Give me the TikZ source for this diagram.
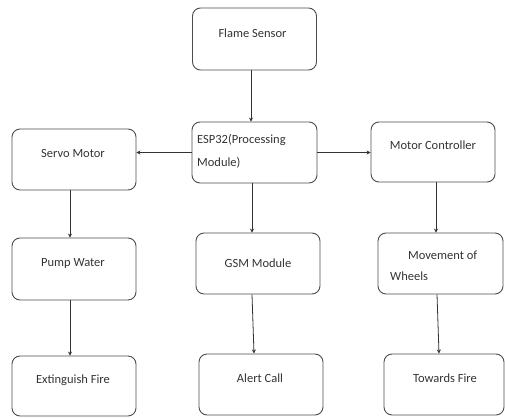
\documentclass[tikz,border=0pt]{standalone}
\usepackage{fontspec}
\setmainfont{Carlito}
\usetikzlibrary{arrows.meta,calc}
\begin{document}
\begin{tikzpicture}[x=1pt,y=-1pt,
  box/.style={draw=black!70,line width=0.9pt,rounded corners=8pt,inner sep=0pt},
  txt/.style={font=\fontsize{12.5}{22}\selectfont,text=black!80,inner sep=0pt},
  conn/.style={draw=black!80,line width=0.8pt,-{Stealth[length=4pt,width=4pt]}}]
\useasboundingbox (0,0) rectangle (505,417);
% boxes (corner coordinates in px)
\node[box,minimum width=124pt,minimum height=62pt] (fs) at (254.5,39) {};
\node[box,minimum width=125pt,minimum height=61pt] (esp) at (254.5,152.5) {};
\node[box,minimum width=124pt,minimum height=61pt] (servo) at (74,159.5) {};
\node[box,minimum width=124pt,minimum height=60pt] (mc) at (433,152) {};
\node[box,minimum width=124pt,minimum height=62pt] (pump) at (74,269) {};
\node[box,minimum width=124pt,minimum height=61pt] (gsm) at (258,263.5) {};
\node[box,minimum width=125pt,minimum height=61pt] (mw) at (440.5,263.5) {};
\node[box,minimum width=124pt,minimum height=60pt] (ext) at (74,386) {};
\node[box,minimum width=124pt,minimum height=61pt] (alert) at (261,384.5) {};
\node[box,minimum width=120pt,minimum height=61pt] (tf) at (444,384.5) {};
% texts
\node[txt] (tfs) at (252.5,33) {Flame Sensor};
\node[txt,anchor=west] (tesp1) at (197,140) {ESP32(Processing};
\node[txt,anchor=west] (tesp2) at (197,163) {Module)};
\node[txt] (tservo) at (73,153) {Servo Motor};
\node[txt] (tmc) at (433,145) {Motor Controller};
\node[txt] (tpump) at (73,263) {Pump Water};
\node[txt] (tgsm) at (258,263) {GSM Module};
\node[txt,anchor=west] (tmw1) at (408,255) {Movement of};
\node[txt,anchor=west] (tmw2) at (390,276) {Wheels};
\node[txt] (text) at (73,380) {Extinguish Fire};
\node[txt] (talert) at (260,378) {Alert Call};
\node[txt] (ttf) at (445,378) {Towards Fire};
% connectors
\coordinate (c1) at (251,0);
\draw[conn] (fs.south -| c1) -- (esp.north -| c1);
\draw[conn] (esp.west) -- (esp.west -| servo.east);
\draw[conn] (esp.east) -- (esp.east -| mc.west);
\coordinate (c2) at (252,0);
\draw[conn] (esp.south -| c2) -- (gsm.north -| c2);
\coordinate (c3) at (70,0);
\draw[conn] (servo.south -| c3) -- (pump.north -| c3);
\draw[conn] (pump.south -| c3) -- (ext.north -| c3);
\coordinate (c4) at (436,0);
\draw[conn] (mc.south -| c4) -- (mw.north -| c4);
\coordinate (c5) at (252,0);
\coordinate (c6) at (254,0);
\draw[conn] (gsm.south -| c5) -- (alert.north -| c6);
\coordinate (c7) at (437,0);
\coordinate (c8) at (439,0);
\draw[conn] (mw.south -| c7) -- (tf.north -| c8);
\end{tikzpicture}
\end{document}
